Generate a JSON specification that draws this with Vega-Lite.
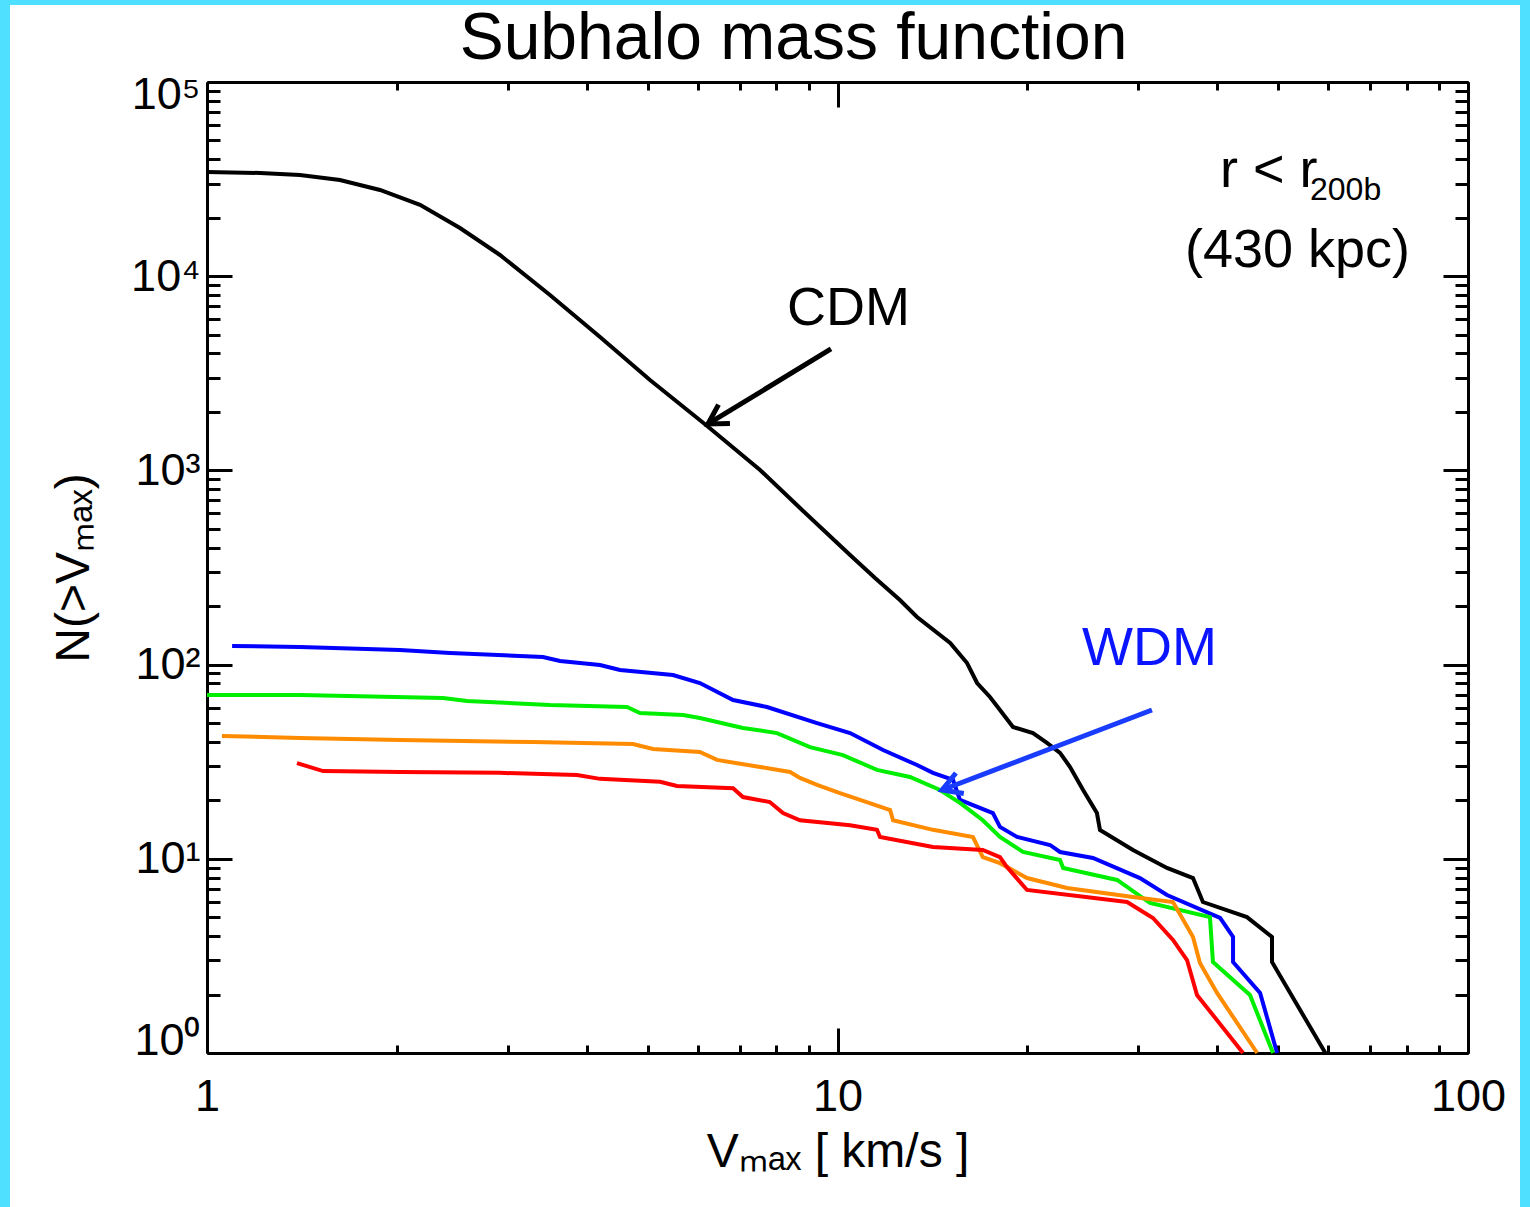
{
"$schema": "https://vega.github.io/schema/vega-lite/v6.json",
"width": 1530, "height": 1207,
"autosize": {"type": "fit", "contains": "padding"},
"padding": {"left": 10, "top": 5, "right": 10, "bottom": 0},
"background": "#4fdfff",
"config": {
  "view": {"fill": "white", "stroke": null},
  "axis": {"domainColor": "black", "domainWidth": 3, "tickColor": "black", "tickWidth": 3, "grid": false,
    "labelFont": "Liberation Sans", "labelFontSize": 45, "labelColor": "black", "labelOverlap": false,
    "titleFont": "Liberation Sans", "titleFontSize": 48, "titleFontWeight": "normal", "titleColor": "black"}
},
"datasets": {
  "curves": [
    {"model": "CDM", "v": 1.0, "n": 34400}, {"model": "CDM", "v": 1.214, "n": 34000}, {"model": "CDM", "v": 1.404, "n": 33200},
    {"model": "CDM", "v": 1.625, "n": 31300}, {"model": "CDM", "v": 1.881, "n": 27800}, {"model": "CDM", "v": 2.177, "n": 23300},
    {"model": "CDM", "v": 2.519, "n": 17700}, {"model": "CDM", "v": 2.915, "n": 12860}, {"model": "CDM", "v": 3.499, "n": 8005},
    {"model": "CDM", "v": 4.201, "n": 4864}, {"model": "CDM", "v": 5.042, "n": 2921}, {"model": "CDM", "v": 6.185, "n": 1714},
    {"model": "CDM", "v": 7.537, "n": 1005}, {"model": "CDM", "v": 8.72, "n": 640}, {"model": "CDM", "v": 10.47, "n": 367},
    {"model": "CDM", "v": 11.47, "n": 279}, {"model": "CDM", "v": 12.56, "n": 215}, {"model": "CDM", "v": 13.37, "n": 175.9},
    {"model": "CDM", "v": 15.09, "n": 129.2}, {"model": "CDM", "v": 16.05, "n": 101.9}, {"model": "CDM", "v": 16.65, "n": 80.4},
    {"model": "CDM", "v": 17.45, "n": 68.1}, {"model": "CDM", "v": 18.1, "n": 58.4}, {"model": "CDM", "v": 18.98, "n": 47.7},
    {"model": "CDM", "v": 20.42, "n": 44.4}, {"model": "CDM", "v": 21.49, "n": 39.5}, {"model": "CDM", "v": 22.54, "n": 35.1},
    {"model": "CDM", "v": 23.38, "n": 29.7}, {"model": "CDM", "v": 24.52, "n": 22.6}, {"model": "CDM", "v": 25.79, "n": 17.2},
    {"model": "CDM", "v": 26.08, "n": 14.07}, {"model": "CDM", "v": 29.42, "n": 11.1}, {"model": "CDM", "v": 33.31, "n": 8.97},
    {"model": "CDM", "v": 36.63, "n": 7.96}, {"model": "CDM", "v": 37.98, "n": 5.99}, {"model": "CDM", "v": 44.61, "n": 5.01},
    {"model": "CDM", "v": 48.88, "n": 3.96}, {"model": "CDM", "v": 48.88, "n": 2.94}, {"model": "CDM", "v": 59.4, "n": 1.0},

    {"model": "WDM a", "v": 1.096, "n": 124.7}, {"model": "WDM a", "v": 1.404, "n": 123.2}, {"model": "WDM a", "v": 2.023, "n": 118.9},
    {"model": "WDM a", "v": 2.429, "n": 114.8}, {"model": "WDM a", "v": 3.411, "n": 109.4}, {"model": "WDM a", "v": 3.63, "n": 104.4},
    {"model": "WDM a", "v": 4.201, "n": 99.5}, {"model": "WDM a", "v": 4.519, "n": 93.8}, {"model": "WDM a", "v": 5.484, "n": 88.4},
    {"model": "WDM a", "v": 6.05, "n": 80.4}, {"model": "WDM a", "v": 6.83, "n": 65.7}, {"model": "WDM a", "v": 7.73, "n": 60.5},
    {"model": "WDM a", "v": 9.28, "n": 50.0}, {"model": "WDM a", "v": 10.47, "n": 44.4}, {"model": "WDM a", "v": 11.81, "n": 36.3},
    {"model": "WDM a", "v": 13.37, "n": 30.4}, {"model": "WDM a", "v": 14.17, "n": 27.7}, {"model": "WDM a", "v": 15.25, "n": 25.5},
    {"model": "WDM a", "v": 15.64, "n": 20.1}, {"model": "WDM a", "v": 17.64, "n": 17.2}, {"model": "WDM a", "v": 18.1, "n": 14.6},
    {"model": "WDM a", "v": 19.27, "n": 12.95}, {"model": "WDM a", "v": 21.73, "n": 11.78}, {"model": "WDM a", "v": 22.54, "n": 10.84},
    {"model": "WDM a", "v": 25.42, "n": 10.1}, {"model": "WDM a", "v": 30.18, "n": 7.96}, {"model": "WDM a", "v": 33.31, "n": 6.51},
    {"model": "WDM a", "v": 40.44, "n": 4.96}, {"model": "WDM a", "v": 42.4, "n": 3.96}, {"model": "WDM a", "v": 42.4, "n": 2.94},
    {"model": "WDM a", "v": 46.8, "n": 2.04}, {"model": "WDM a", "v": 49.8, "n": 1.0},

    {"model": "WDM b", "v": 1.0, "n": 69.7}, {"model": "WDM b", "v": 1.404, "n": 69.7}, {"model": "WDM b", "v": 2.368, "n": 67.3},
    {"model": "WDM b", "v": 2.585, "n": 65.0}, {"model": "WDM b", "v": 3.499, "n": 61.9}, {"model": "WDM b", "v": 4.636, "n": 60.5},
    {"model": "WDM b", "v": 4.861, "n": 56.3}, {"model": "WDM b", "v": 5.689, "n": 55.0}, {"model": "WDM b", "v": 6.05, "n": 53.1},
    {"model": "WDM b", "v": 7.08, "n": 47.2}, {"model": "WDM b", "v": 8.02, "n": 44.4}, {"model": "WDM b", "v": 9.045, "n": 37.6},
    {"model": "WDM b", "v": 10.2, "n": 34.2}, {"model": "WDM b", "v": 11.55, "n": 28.7}, {"model": "WDM b", "v": 13.03, "n": 26.4},
    {"model": "WDM b", "v": 14.54, "n": 22.6}, {"model": "WDM b", "v": 15.64, "n": 19.4}, {"model": "WDM b", "v": 17.0, "n": 15.8},
    {"model": "WDM b", "v": 18.1, "n": 12.95}, {"model": "WDM b", "v": 19.69, "n": 10.84}, {"model": "WDM b", "v": 22.54, "n": 9.86},
    {"model": "WDM b", "v": 22.8, "n": 8.97}, {"model": "WDM b", "v": 27.76, "n": 7.78}, {"model": "WDM b", "v": 31.3, "n": 5.92},
    {"model": "WDM b", "v": 38.97, "n": 5.01}, {"model": "WDM b", "v": 39.4, "n": 2.94}, {"model": "WDM b", "v": 45.1, "n": 1.99},
    {"model": "WDM b", "v": 49.06, "n": 1.0},

    {"model": "WDM c", "v": 1.056, "n": 42.9}, {"model": "WDM c", "v": 1.404, "n": 41.9}, {"model": "WDM c", "v": 2.023, "n": 40.9},
    {"model": "WDM c", "v": 3.289, "n": 39.9}, {"model": "WDM c", "v": 4.738, "n": 39.0}, {"model": "WDM c", "v": 5.098, "n": 36.8},
    {"model": "WDM c", "v": 6.05, "n": 35.5}, {"model": "WDM c", "v": 6.44, "n": 32.3}, {"model": "WDM c", "v": 7.54, "n": 29.7},
    {"model": "WDM c", "v": 8.41, "n": 28.0}, {"model": "WDM c", "v": 8.72, "n": 26.1}, {"model": "WDM c", "v": 9.28, "n": 24.0},
    {"model": "WDM c", "v": 10.09, "n": 21.8}, {"model": "WDM c", "v": 10.86, "n": 20.1}, {"model": "WDM c", "v": 12.12, "n": 17.8},
    {"model": "WDM c", "v": 12.25, "n": 15.8}, {"model": "WDM c", "v": 14.17, "n": 14.1}, {"model": "WDM c", "v": 16.4, "n": 12.95},
    {"model": "WDM c", "v": 17.0, "n": 10.2}, {"model": "WDM c", "v": 18.1, "n": 9.5}, {"model": "WDM c", "v": 19.98, "n": 7.96},
    {"model": "WDM c", "v": 23.12, "n": 7.07}, {"model": "WDM c", "v": 29.42, "n": 6.36}, {"model": "WDM c", "v": 34.05, "n": 5.99},
    {"model": "WDM c", "v": 36.63, "n": 3.96}, {"model": "WDM c", "v": 37.57, "n": 2.91}, {"model": "WDM c", "v": 39.99, "n": 2.04},
    {"model": "WDM c", "v": 46.3, "n": 1.0},

    {"model": "WDM d", "v": 1.389, "n": 31.1}, {"model": "WDM d", "v": 1.528, "n": 28.3}, {"model": "WDM d", "v": 2.023, "n": 28.0},
    {"model": "WDM d", "v": 2.915, "n": 27.7}, {"model": "WDM d", "v": 3.862, "n": 27.0}, {"model": "WDM d", "v": 4.201, "n": 25.8},
    {"model": "WDM d", "v": 5.23, "n": 24.9}, {"model": "WDM d", "v": 5.565, "n": 23.7}, {"model": "WDM d", "v": 6.83, "n": 23.1},
    {"model": "WDM d", "v": 7.08, "n": 20.8}, {"model": "WDM d", "v": 7.81, "n": 19.6}, {"model": "WDM d", "v": 8.195, "n": 17.2},
    {"model": "WDM d", "v": 8.72, "n": 15.8}, {"model": "WDM d", "v": 10.47, "n": 14.9}, {"model": "WDM d", "v": 11.55, "n": 14.1},
    {"model": "WDM d", "v": 11.68, "n": 12.95}, {"model": "WDM d", "v": 14.17, "n": 11.5}, {"model": "WDM d", "v": 17.0, "n": 11.1},
    {"model": "WDM d", "v": 18.1, "n": 10.2}, {"model": "WDM d", "v": 18.57, "n": 9.07}, {"model": "WDM d", "v": 19.98, "n": 6.91},
    {"model": "WDM d", "v": 28.79, "n": 5.99}, {"model": "WDM d", "v": 31.65, "n": 4.96}, {"model": "WDM d", "v": 34.05, "n": 3.82},
    {"model": "WDM d", "v": 35.84, "n": 3.01}, {"model": "WDM d", "v": 37.17, "n": 1.99}, {"model": "WDM d", "v": 43.97, "n": 1.0}
  ],
  "blackText": [
    {"text": "CDM", "v": 8.317, "n": 5607},
    {"text": "r < r", "v": 40.44, "n": 28800},
    {"text": "(430 kpc)", "v": 35.57, "n": 11154}
  ],
  "subText": [{"text": "200b", "v": 56.16, "n": 24690}],
  "blueText": [{"text": "WDM", "v": 24.42, "n": 99.5}],
  "cdmArrow": [{"v": 9.765, "n": 4219, "v2": 6.231, "n2": 1734}],
  "wdmArrow": [{"v": 31.53, "n": 58.4, "v2": 14.65, "n2": 22.6}]
},
"layer": [
  {
    "data": {"name": "curves"},
    "mark": {"type": "line", "strokeWidth": 4, "clip": true},
    "encoding": {
      "x": {"field": "v", "type": "quantitative",
        "scale": {"type": "log", "domain": [1, 100], "range": [197, 1458], "nice": false},
        "axis": {"orient": "bottom", "offset": -154,
          "values": [1,2,3,4,5,6,7,8,9,10,20,30,40,50,60,70,80,90,100],
          "tickSize": {"condition": {"test": "abs(log(datum.value)/LN10 - round(log(datum.value)/LN10)) < 0.001", "value": -25}, "value": -8},
          "labelExpr": "abs(log(datum.value)/LN10 - round(log(datum.value)/LN10)) < 0.001 ? format(datum.value, 'd') : ''",
          "labelPadding": 46, "labelAlign": "center", "labelBaseline": "top",
          "title": "Vₘₐₓ [ km/s ]", "titlePadding": -8}},
      "y": {"field": "n", "type": "quantitative",
        "scale": {"type": "log", "domain": [1, 100000], "range": [1048, 77], "nice": false},
        "axis": {"orient": "left", "offset": -197,
          "values": [1,2,3,4,5,6,7,8,9,10,20,30,40,50,60,70,80,90,100,200,300,400,500,600,700,800,900,1000,2000,3000,4000,5000,6000,7000,8000,9000,10000,20000,30000,40000,50000,60000,70000,80000,90000,100000],
          "tickSize": {"condition": {"test": "abs(log(datum.value)/LN10 - round(log(datum.value)/LN10)) < 0.001", "value": -25}, "value": -13},
          "labelExpr": "abs(log(datum.value)/LN10 - round(log(datum.value)/LN10)) < 0.001 ? '10' + ['⁰','¹','²','³','⁴','⁵'][round(log(datum.value)/LN10)] : ''",
          "labelPadding": 32, "labelFlush": true, "labelFlushOffset": 10,
          "title": "N(>Vₘₐₓ)", "titlePadding": 32}},
      "color": {"field": "model", "type": "nominal",
        "scale": {"domain": ["CDM", "WDM a", "WDM b", "WDM c", "WDM d"], "range": ["#000000", "#0000ff", "#00ee00", "#ff8c00", "#ff0000"]},
        "legend": null},
      "order": {"value": null}
    }
  },
  {
    "data": {"name": "cdmArrow"},
    "mark": {"type": "rule", "color": "black", "strokeWidth": 5},
    "encoding": {
      "x": {"field": "v", "type": "quantitative", "axis": null},
      "y": {"field": "n", "type": "quantitative", "axis": null},
      "x2": {"field": "v2"}, "y2": {"field": "n2"}
    }
  },
  {
    "data": {"name": "cdmArrow"},
    "mark": {"type": "point", "shape": "M -0.866 -0.5 L 0 0 L -0.866 0.5", "size": 1936, "angle": 148.6, "filled": false, "color": "black", "strokeWidth": 5, "opacity": 1},
    "encoding": {
      "x": {"field": "v2", "type": "quantitative", "axis": null},
      "y": {"field": "n2", "type": "quantitative", "axis": null}
    }
  },
  {
    "data": {"name": "wdmArrow"},
    "mark": {"type": "rule", "color": "#1a3cff", "strokeWidth": 5},
    "encoding": {
      "x": {"field": "v", "type": "quantitative", "axis": null},
      "y": {"field": "n", "type": "quantitative", "axis": null},
      "x2": {"field": "v2"}, "y2": {"field": "n2"}
    }
  },
  {
    "data": {"name": "wdmArrow"},
    "mark": {"type": "point", "shape": "M -0.866 -0.5 L 0 0 L -0.866 0.5", "size": 1936, "angle": 159.1, "filled": false, "color": "#1a3cff", "strokeWidth": 5, "opacity": 1},
    "encoding": {
      "x": {"field": "v2", "type": "quantitative", "axis": null},
      "y": {"field": "n2", "type": "quantitative", "axis": null}
    }
  },
  {
    "data": {"name": "blueText"},
    "mark": {"type": "text", "font": "Liberation Sans", "fontSize": 54, "color": "#0a14ff", "align": "left", "baseline": "alphabetic"},
    "encoding": {
      "x": {"field": "v", "type": "quantitative", "axis": null},
      "y": {"field": "n", "type": "quantitative", "axis": null},
      "text": {"field": "text"}
    }
  },
  {
    "data": {"name": "subText"},
    "mark": {"type": "text", "font": "Liberation Sans", "fontSize": 32, "color": "black", "align": "left", "baseline": "alphabetic"},
    "encoding": {
      "x": {"field": "v", "type": "quantitative", "axis": null},
      "y": {"field": "n", "type": "quantitative", "axis": null},
      "text": {"field": "text"}
    }
  },
  {
    "data": {"name": "blackText"},
    "mark": {"type": "text", "font": "Liberation Sans", "fontSize": 54, "color": "black", "align": "left", "baseline": "alphabetic"},
    "encoding": {
      "x": {"field": "v", "type": "quantitative",
        "scale": {"type": "log", "domain": [1, 100], "range": [197, 1458], "nice": false},
        "axis": {"orient": "top", "offset": -77, "labels": false,
          "title": "Subhalo mass function", "titleFontSize": 66, "titleBaseline": "alphabetic", "titlePadding": 22, "titleX": 783,
          "values": [1,2,3,4,5,6,7,8,9,10,20,30,40,50,60,70,80,90,100],
          "tickSize": {"condition": {"test": "abs(log(datum.value)/LN10 - round(log(datum.value)/LN10)) < 0.001", "value": -25}, "value": -8}}},
      "y": {"field": "n", "type": "quantitative",
        "scale": {"type": "log", "domain": [1, 100000], "range": [1048, 77], "nice": false},
        "axis": {"orient": "right", "offset": -52, "labels": false, "title": null,
          "values": [1,2,3,4,5,6,7,8,9,10,20,30,40,50,60,70,80,90,100,200,300,400,500,600,700,800,900,1000,2000,3000,4000,5000,6000,7000,8000,9000,10000,20000,30000,40000,50000,60000,70000,80000,90000,100000],
          "tickSize": {"condition": {"test": "abs(log(datum.value)/LN10 - round(log(datum.value)/LN10)) < 0.001", "value": -25}, "value": -13}}},
      "text": {"field": "text"}
    }
  }
],
"resolve": {"axis": {"x": "independent", "y": "independent"}}
}
